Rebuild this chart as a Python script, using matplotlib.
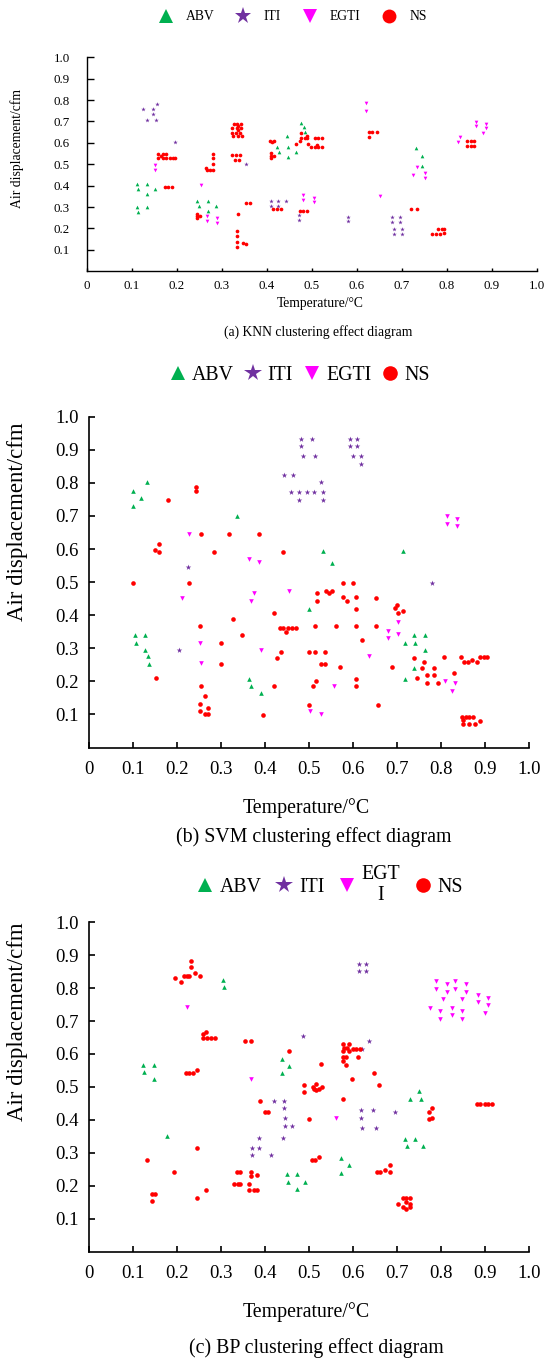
import numpy as np
import matplotlib
matplotlib.use("Agg")
import matplotlib.pyplot as plt
from matplotlib.lines import Line2D

plt.rcParams['font.family'] = ['Liberation Serif', 'DejaVu Serif']
plt.rcParams['mathtext.fontset'] = 'stix'

W, H = 545, 1360

# ---------------- data ----------------
classes = ["ABV", "ITI", "EGTI", "NS"]
colors = {"ABV": "#00B050", "ITI": "#7030A0", "EGTI": "#FF00FF", "NS": "#FF0000"}
markers = {"ABV": "^", "ITI": "*", "EGTI": "v", "NS": "o"}

# (a) KNN
knn_abv_x = [0.111, 0.115, 0.135, 0.135, 0.152, 0.111, 0.115, 0.135, 0.246, 0.250, 0.270, 0.270, 0.287,
             0.423, 0.428, 0.446, 0.447, 0.447, 0.464, 0.476, 0.482, 0.486, 0.731, 0.744, 0.744]
knn_abv_y = [0.409, 0.386, 0.409, 0.362, 0.386, 0.301, 0.277, 0.301, 0.328, 0.304, 0.328, 0.281, 0.304,
             0.580, 0.558, 0.630, 0.580, 0.536, 0.558, 0.692, 0.675, 0.652, 0.578, 0.537, 0.494]
knn_iti_x = [0.126, 0.147, 0.147, 0.133, 0.153, 0.157, 0.196, 0.353, 0.409, 0.409, 0.426, 0.426, 0.443,
             0.472, 0.472, 0.580, 0.580, 0.679, 0.696, 0.679, 0.696, 0.682, 0.700, 0.682, 0.700]
knn_iti_y = [0.758, 0.758, 0.737, 0.705, 0.705, 0.780, 0.606, 0.500, 0.330, 0.306, 0.330, 0.306, 0.330,
             0.264, 0.242, 0.253, 0.233, 0.253, 0.253, 0.231, 0.231, 0.198, 0.198, 0.175, 0.175]
knn_egti_x = [0.152, 0.152, 0.254, 0.267, 0.267, 0.290, 0.290, 0.481, 0.481, 0.505, 0.505, 0.621, 0.621,
              0.651, 0.726, 0.733, 0.752, 0.752, 0.824, 0.830, 0.864, 0.864, 0.887, 0.887, 0.880]
knn_egti_y = [0.498, 0.475, 0.401, 0.257, 0.236, 0.248, 0.226, 0.355, 0.331, 0.344, 0.323, 0.788, 0.748,
              0.350, 0.450, 0.486, 0.458, 0.436, 0.605, 0.628, 0.698, 0.678, 0.690, 0.669, 0.647]
knn_ns_x = [0.159, 0.170, 0.176, 0.159, 0.165, 0.170, 0.176, 0.184, 0.191, 0.197, 0.174, 0.181, 0.189,
            0.281, 0.281, 0.281, 0.281, 0.274, 0.267, 0.264, 0.244, 0.244, 0.252, 0.244,
            0.327, 0.333, 0.343, 0.322, 0.333, 0.343, 0.322, 0.332, 0.341, 0.326, 0.336, 0.344, 0.336, 0.336,
            0.323, 0.331, 0.340, 0.329, 0.339, 0.337, 0.334, 0.334, 0.334, 0.334, 0.347, 0.354, 0.354, 0.363,
            0.407, 0.416, 0.412, 0.410, 0.410, 0.417, 0.409, 0.414, 0.423, 0.432, 0.474, 0.481, 0.489,
            0.476, 0.474, 0.464, 0.476, 0.484, 0.489, 0.489, 0.492, 0.499, 0.507, 0.515, 0.523,
            0.508, 0.515, 0.523, 0.511, 0.627, 0.635, 0.644, 0.627, 0.720, 0.735,
            0.768, 0.776, 0.784, 0.781, 0.789, 0.795, 0.795, 0.845, 0.853, 0.861, 0.845, 0.853, 0.861]
knn_ns_y = [0.548, 0.548, 0.548, 0.531, 0.537, 0.531, 0.531, 0.531, 0.531, 0.531, 0.393, 0.393, 0.393,
            0.550, 0.531, 0.500, 0.475, 0.475, 0.475, 0.483, 0.269, 0.257, 0.257, 0.248,
            0.690, 0.690, 0.690, 0.670, 0.670, 0.670, 0.648, 0.648, 0.648, 0.633, 0.633, 0.633, 0.678, 0.659,
            0.542, 0.542, 0.542, 0.519, 0.519, 0.267, 0.190, 0.167, 0.136, 0.112, 0.130, 0.127, 0.320, 0.320,
            0.609, 0.609, 0.603, 0.552, 0.537, 0.539, 0.531, 0.289, 0.289, 0.289, 0.281, 0.281, 0.281,
            0.648, 0.608, 0.597, 0.625, 0.625, 0.634, 0.623, 0.597, 0.580, 0.580, 0.580, 0.580,
            0.625, 0.625, 0.625, 0.591, 0.652, 0.652, 0.652, 0.628, 0.292, 0.292,
            0.172, 0.172, 0.172, 0.197, 0.197, 0.197, 0.180, 0.608, 0.608, 0.608, 0.586, 0.586, 0.586]

# (b) SVM
svm_abv_x = [0.100, 0.100, 0.117, 0.131, 0.337, 0.532, 0.551, 0.499, 0.714, 0.104, 0.107, 0.127, 0.127,
             0.134, 0.137, 0.364, 0.368, 0.390, 0.738, 0.718, 0.741, 0.763, 0.763, 0.738, 0.718]
svm_abv_y = [0.775, 0.731, 0.753, 0.802, 0.700, 0.594, 0.559, 0.420, 0.594, 0.339, 0.316, 0.339, 0.294,
             0.276, 0.252, 0.207, 0.185, 0.164, 0.339, 0.316, 0.316, 0.339, 0.294, 0.239, 0.207]
svm_iti_x = [0.224, 0.205, 0.779, 0.481, 0.507, 0.481, 0.485, 0.514, 0.443, 0.463, 0.458, 0.478, 0.495,
             0.512, 0.532, 0.478, 0.528, 0.532, 0.593, 0.609, 0.593, 0.609, 0.599, 0.617, 0.617]
svm_iti_y = [0.546, 0.294, 0.496, 0.932, 0.932, 0.910, 0.880, 0.880, 0.825, 0.825, 0.771, 0.771, 0.771,
             0.771, 0.771, 0.749, 0.802, 0.749, 0.932, 0.932, 0.910, 0.910, 0.880, 0.880, 0.857]
svm_egti_x = [0.228, 0.212, 0.252, 0.364, 0.387, 0.368, 0.375, 0.455, 0.390, 0.678, 0.678, 0.702, 0.702,
              0.635, 0.812, 0.812, 0.836, 0.836, 0.255, 0.503, 0.526, 0.556, 0.809, 0.825, 0.832]
svm_egti_y = [0.646, 0.452, 0.317, 0.569, 0.560, 0.444, 0.466, 0.474, 0.295, 0.351, 0.331, 0.379, 0.342,
              0.277, 0.700, 0.677, 0.690, 0.669, 0.254, 0.110, 0.101, 0.187, 0.202, 0.170, 0.194]
svm_ns_x = [0.100, 0.151, 0.158, 0.158, 0.179, 0.242, 0.242, 0.254, 0.228, 0.252, 0.285, 0.319, 0.328,
            0.347, 0.387, 0.300, 0.421, 0.441, 0.433, 0.441, 0.453, 0.461, 0.469, 0.447,
            0.518, 0.518, 0.514, 0.538, 0.545, 0.552, 0.576, 0.599, 0.576, 0.585, 0.606, 0.606, 0.606,
            0.562, 0.621, 0.651, 0.651, 0.694, 0.700, 0.714, 0.702, 0.499, 0.514, 0.536,
            0.153, 0.251, 0.251, 0.255, 0.263, 0.263, 0.271, 0.271, 0.300, 0.395, 0.421, 0.428, 0.436,
            0.528, 0.536, 0.516, 0.508, 0.499, 0.570, 0.606, 0.606, 0.657, 0.689, 0.738, 0.744, 0.756,
            0.761, 0.767, 0.767, 0.783, 0.783, 0.793, 0.806, 0.828, 0.844, 0.852, 0.860, 0.870, 0.882,
            0.888, 0.896, 0.904, 0.848, 0.856, 0.864, 0.872, 0.850, 0.850, 0.862, 0.876, 0.888]
svm_ns_y = [0.496, 0.596, 0.614, 0.590, 0.749, 0.786, 0.776, 0.646, 0.496, 0.367, 0.590, 0.646, 0.388,
            0.339, 0.646, 0.317, 0.407, 0.590, 0.362, 0.362, 0.362, 0.362, 0.362, 0.348,
            0.466, 0.444, 0.367, 0.474, 0.466, 0.474, 0.496, 0.496, 0.456, 0.444, 0.456, 0.420, 0.367,
            0.367, 0.326, 0.452, 0.367, 0.422, 0.430, 0.412, 0.407, 0.290, 0.290, 0.290,
            0.209, 0.132, 0.110, 0.186, 0.155, 0.100, 0.100, 0.119, 0.252, 0.097, 0.185, 0.270, 0.288,
            0.252, 0.252, 0.202, 0.185, 0.127, 0.244, 0.207, 0.185, 0.127, 0.244, 0.270, 0.209, 0.241,
            0.258, 0.219, 0.194, 0.241, 0.219, 0.194, 0.274, 0.226, 0.274, 0.257, 0.257, 0.265, 0.257,
            0.274, 0.274, 0.274, 0.092, 0.092, 0.092, 0.092, 0.082, 0.070, 0.070, 0.070, 0.079]

# (c) BP
bp_abv_x = [0.123, 0.147, 0.126, 0.147, 0.177, 0.304, 0.307, 0.438, 0.455, 0.438, 0.749, 0.730, 0.753,
            0.718, 0.741, 0.722, 0.759, 0.573, 0.449, 0.453, 0.473, 0.473, 0.490, 0.573, 0.590]
bp_abv_y = [0.568, 0.568, 0.546, 0.523, 0.352, 0.825, 0.802, 0.586, 0.563, 0.541, 0.487, 0.464, 0.464,
            0.343, 0.343, 0.321, 0.321, 0.285, 0.235, 0.212, 0.235, 0.189, 0.212, 0.239, 0.262]
bp_iti_x = [0.613, 0.630, 0.613, 0.630, 0.485, 0.636, 0.619, 0.421, 0.442, 0.442, 0.445, 0.445, 0.462,
            0.387, 0.371, 0.387, 0.441, 0.371, 0.414, 0.617, 0.644, 0.617, 0.621, 0.651, 0.694]
bp_iti_y = [0.874, 0.874, 0.852, 0.852, 0.655, 0.639, 0.615, 0.458, 0.458, 0.436, 0.405, 0.382, 0.382,
            0.344, 0.315, 0.315, 0.344, 0.293, 0.293, 0.430, 0.430, 0.406, 0.376, 0.376, 0.425]
bp_egti_x = [0.223, 0.368, 0.562, 0.788, 0.812, 0.832, 0.856, 0.788, 0.812, 0.832, 0.856, 0.805, 0.848,
             0.775, 0.798, 0.824, 0.848, 0.798, 0.824, 0.848, 0.883, 0.907, 0.883, 0.907, 0.900]
bp_egti_y = [0.742, 0.524, 0.406, 0.823, 0.813, 0.823, 0.813, 0.798, 0.789, 0.798, 0.789, 0.767, 0.767,
             0.741, 0.732, 0.741, 0.732, 0.707, 0.717, 0.707, 0.780, 0.771, 0.758, 0.748, 0.726]
bp_ns_x = [0.196, 0.208, 0.216, 0.222, 0.228, 0.231, 0.231, 0.240, 0.252, 0.220, 0.228, 0.236, 0.246,
           0.259, 0.259, 0.268, 0.277, 0.287, 0.265, 0.354, 0.368, 0.246, 0.388, 0.399, 0.407, 0.455,
           0.526, 0.489, 0.489, 0.508, 0.516, 0.516, 0.523, 0.529, 0.512, 0.499,
           0.576, 0.590, 0.579, 0.585, 0.576, 0.590, 0.599, 0.607, 0.615, 0.576, 0.583, 0.576, 0.583, 0.611,
           0.597, 0.577, 0.647, 0.658, 0.772, 0.778, 0.772, 0.778, 0.881, 0.889, 0.900, 0.907, 0.915,
           0.131, 0.142, 0.150, 0.142, 0.192, 0.246, 0.266, 0.329, 0.339, 0.344, 0.337, 0.342, 0.364,
           0.368, 0.368, 0.382, 0.364, 0.374, 0.382, 0.506, 0.514, 0.523, 0.655, 0.662, 0.672, 0.684,
           0.684, 0.702, 0.714, 0.721, 0.730, 0.721, 0.714, 0.721, 0.730, 0.730]
bp_ns_y = [0.830, 0.820, 0.838, 0.838, 0.838, 0.882, 0.865, 0.847, 0.838, 0.541, 0.541, 0.541, 0.550,
           0.662, 0.650, 0.650, 0.650, 0.650, 0.668, 0.640, 0.640, 0.315, 0.458, 0.424, 0.424, 0.609,
           0.569, 0.506, 0.483, 0.499, 0.510, 0.490, 0.494, 0.499, 0.494, 0.404,
           0.631, 0.631, 0.619, 0.619, 0.609, 0.609, 0.614, 0.614, 0.614, 0.592, 0.592, 0.578, 0.568, 0.592,
           0.523, 0.464, 0.541, 0.505, 0.424, 0.437, 0.403, 0.406, 0.447, 0.447, 0.447, 0.447, 0.447,
           0.278, 0.175, 0.175, 0.152, 0.240, 0.164, 0.186, 0.205, 0.205, 0.205, 0.240, 0.240, 0.205,
           0.240, 0.230, 0.232, 0.186, 0.186, 0.186, 0.278, 0.278, 0.287, 0.240, 0.240, 0.249, 0.262,
           0.240, 0.143, 0.164, 0.164, 0.164, 0.151, 0.134, 0.128, 0.134, 0.143]

ticks = [0, 0.1, 0.2, 0.3, 0.4, 0.5, 0.6, 0.7, 0.8, 0.9, 1.0]
xtick_labels = ["0", "0.1", "0.2", "0.3", "0.4", "0.5", "0.6", "0.7", "0.8", "0.9", "1.0"]
ytick_vals = [0.1, 0.2, 0.3, 0.4, 0.5, 0.6, 0.7, 0.8, 0.9, 1.0]
ytick_labels = ["0.1", "0.2", "0.3", "0.4", "0.5", "0.6", "0.7", "0.8", "0.9", "1.0"]

panels = [
    {"data": {"ABV": (knn_abv_x, knn_abv_y), "ITI": (knn_iti_x, knn_iti_y),
              "EGTI": (knn_egti_x, knn_egti_y), "NS": (knn_ns_x, knn_ns_y)},
     "box": (86.7, 536.7, 57.3, 271.3), "caption": "(a) KNN clustering effect diagram",
     "fs": 9.8, "tfs": 9.3, "yfs": 9.8, "ms": 7, "lw": 1.0, "ytl": 4.8, "xtl": 2.5, "ypad": 12, "xpad": 6,
     "ylab": (17, 149), "xlab": (320, 303), "cap": (318.5, 332), "leg": (293, 17),
     "lms": 10, "hl": 1.0, "htp": 1.0, "cs": 1.6, "labels": ["ABV", "ITI", "EGTI", "NS"]},
    {"data": {"ABV": (svm_abv_x, svm_abv_y), "ITI": (svm_iti_x, svm_iti_y),
              "EGTI": (svm_egti_x, svm_egti_y), "NS": (svm_ns_x, svm_ns_y)},
     "box": (89.0, 529.3, 416.7, 747.5), "caption": "(b) SVM clustering effect diagram",
     "fs": 14.3, "tfs": 13.5, "yfs": 16.5, "ms": 11, "lw": 1.2, "ytl": 4.5, "xtl": 4.5, "ypad": 7.5, "xpad": 9.5,
     "ylab": (18, 522), "xlab": (306, 808), "cap": (314, 837), "leg": (300, 375.6),
     "lms": 10.5, "hl": 0.8, "htp": 0.33, "cs": 0.55, "labels": ["ABV", "ITI", "EGTI", "NS"]},
    {"data": {"ABV": (bp_abv_x, bp_abv_y), "ITI": (bp_iti_x, bp_iti_y),
              "EGTI": (bp_egti_x, bp_egti_y), "NS": (bp_ns_x, bp_ns_y)},
     "box": (89.0, 529.3, 922.3, 1251.5), "caption": "(c) BP clustering effect diagram",
     "fs": 14.3, "tfs": 13.5, "yfs": 16.5, "ms": 11, "lw": 1.2, "ytl": 4.5, "xtl": 4.5, "ypad": 7.5, "xpad": 9.5,
     "ylab": (18, 1022), "xlab": (306, 1312), "cap": (316, 1348), "leg": (330, 885),
     "lms": 10.5, "hl": 0.8, "htp": 0.33, "cs": 0.75, "labels": ["ABV", "ITI", "EGT\nI", "NS"]},
]

fig = plt.figure(figsize=(W / 100, H / 100), dpi=100)


def fx(px):
    return px / W


def fy(py):
    return 1 - py / H


for p in panels:
    l, r, t, b = p["box"]
    ax = fig.add_axes([fx(l), fy(b), (r - l) / W, (b - t) / H])
    for c in classes:
        xs, ys = p["data"][c]
        s = p["ms"] * (1.6 if c == "ITI" else 1.0)
        ax.scatter(xs, ys, s=s, marker=markers[c], color=colors[c], linewidths=0, zorder=3)
    ax.set_xlim(0, 1.0)
    ax.set_ylim(0, 1.0)
    for side in ["top", "right"]:
        ax.spines[side].set_visible(False)
    for side in ["left", "bottom"]:
        ax.spines[side].set_linewidth(p["lw"])
    ax.set_xticks(ticks)
    ax.set_xticklabels(xtick_labels, fontsize=p["tfs"])
    ax.set_yticks(ytick_vals)
    ax.set_yticklabels(ytick_labels, fontsize=p["tfs"])
    ax.tick_params(axis="y", direction="in", length=p["ytl"], width=p["lw"], pad=p["ypad"])
    ax.tick_params(axis="x", direction="in", length=p["xtl"], width=p["lw"], pad=p["xpad"])

    fig.text(fx(p["ylab"][0]), fy(p["ylab"][1]), "Air displacement/cfm", rotation=90,
             fontsize=p["yfs"], ha="center", va="center")
    fig.text(fx(p["xlab"][0]), fy(p["xlab"][1]), "Temperature/\u00b0C",
             fontsize=p["fs"], ha="center", va="center")
    fig.text(fx(p["cap"][0]), fy(p["cap"][1]), p["caption"],
             fontsize=p["fs"], ha="center", va="center")

    handles = [Line2D([], [], linestyle="none", marker=markers[c], color=colors[c],
                      markersize=p["lms"] * (1.25 if c == "ITI" else 1.0), markeredgewidth=0)
               for c in classes]
    leg = fig.legend(handles, p["labels"], loc="center", ncol=4, frameon=False,
                     bbox_to_anchor=(fx(p["leg"][0]), fy(p["leg"][1])), fontsize=p["fs"],
                     handlelength=p["hl"], handletextpad=p["htp"], columnspacing=p["cs"],
                     borderpad=0, borderaxespad=0)
    for txt in leg.get_texts():
        txt.set_multialignment("center")

fig.savefig("out.png", dpi=100)
